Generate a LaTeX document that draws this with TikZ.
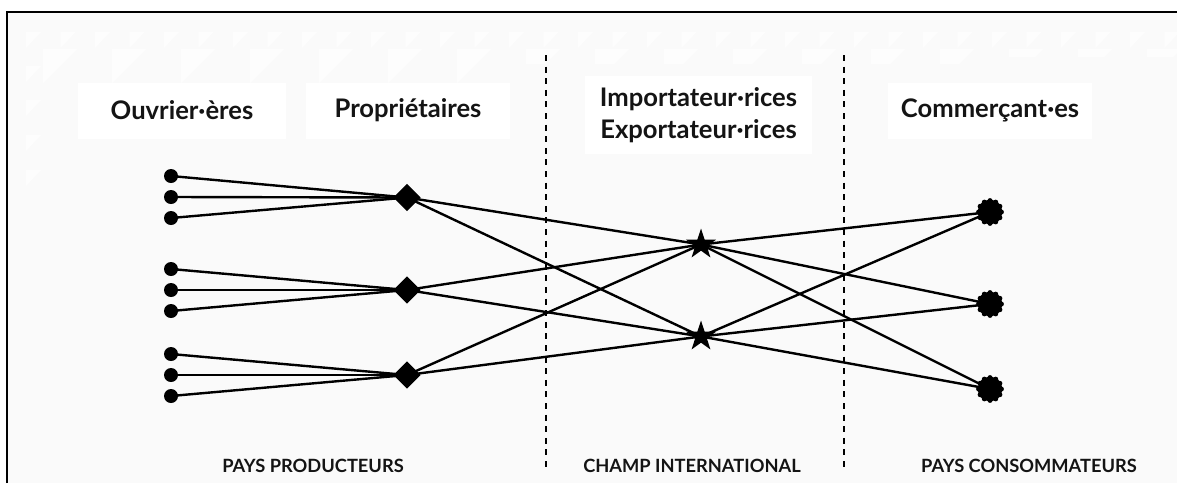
\documentclass[tikz,border=0pt]{standalone}
\usepackage{fontspec}
\setmainfont{Lato}
\usetikzlibrary{shapes.geometric}
\definecolor{paper}{HTML}{FAFAFA}
\definecolor{patchcol}{HTML}{FDFDFD}
\tikzset{
  x=0.75pt,y=-0.75pt,
  conn/.style={line width=1.8pt,black},
  zone/.style={line width=1.8pt,black,dash pattern=on 4.5pt off 4.2pt},
  worker/.style={circle,fill=black,inner sep=0pt,minimum size=10.5pt},
  owner/.style={diamond,fill=black,inner sep=0pt,minimum size=20.5pt,aspect=1},
  trader/.style={star,star points=5,star point ratio=2.6,fill=black,inner sep=0pt,minimum size=24pt},
  shop/.style={circle,fill=black,inner sep=0pt,minimum size=18.5pt},
  head/.style={font=\fontsize{19.2pt}{24pt}\selectfont\bfseries,align=center,text=black!92,fill=white,inner sep=0pt},
  foot/.style={font=\fontsize{13.7pt}{16pt}\selectfont\bfseries,text=black!92,inner sep=0pt},
  patch/.style={fill=patchcol}
}
\begin{document}
\begin{tikzpicture}
\useasboundingbox (0,0) rectangle (1177,483);
\fill[white] (0,0) rectangle (1177,483);
\fill[paper] (7,12) rectangle (1177,483);
% faint background pattern
\begin{scope}
\clip (0,0) rectangle (500,83) (500,0) rectangle (1000,64) (1000,0) rectangle (1177,57);
\foreach \k in {0,...,16}{
  \fill[patch] ({43+69*\k},49) -- ++(34,0) -- ++(-34,34) -- cycle;
}
\end{scope}
\foreach \k in {0,...,33}{
  \fill[patch] ({26+34.5*\k},32) -- ++(15,0) -- ++(-15,16) -- cycle;
}
\foreach \yy in {66,100,135,170}{
  \fill[patch] (26,\yy) -- ++(15,0) -- ++(-15,16) -- cycle;
}
\draw[line width=1.8pt] (7,483) -- (7,12) -- (1177,12);
% label boxes
\node[head,minimum width=156pt,minimum height=42pt] (ouv) at (182,110.5) {Ouvrier·ères};
\node[head,minimum width=153pt,minimum height=42pt] (pro) at (408,110.5) {Propriétaires};
\node[head,minimum width=170pt,minimum height=59pt] (imp) at (698.5,115) {Importateur·rices\\Exportateur·rices};
\node[head,minimum width=153pt,minimum height=42pt] (com) at (990,110.5) {Commerçant·es};
\node[foot] (fp) at (313,466) {PAYS PRODUCTEURS};
\node[foot] (fc) at (692,466) {CHAMP INTERNATIONAL};
\node[foot] (fm) at (1029,466) {PAYS CONSOMMATEURS};
% zone separators
\coordinate (z1a) at (546,55); \coordinate (z1b) at (546,468);
\coordinate (z2a) at (844,55); \coordinate (z2b) at (844,468);
\draw[zone] (z1a) -- (z1b);
\draw[zone] (z2a) -- (z2b);
% nodes
\node[worker] (w1) at (171,176) {}; \node[worker] (w2) at (171,197) {}; \node[worker] (w3) at (171,218) {};
\node[worker] (w4) at (171,269) {}; \node[worker] (w5) at (171,290) {}; \node[worker] (w6) at (171,311) {};
\node[worker] (w7) at (171,354) {}; \node[worker] (w8) at (171,375) {}; \node[worker] (w9) at (171,396) {};
\node[owner] (d1) at (407,197.5) {}; \node[owner] (d2) at (407,290) {}; \node[owner] (d3) at (407,375) {};
\node[trader] (s1) at (701,244.5) {}; \node[trader] (s2) at (701,336.5) {};
\node[shop] (f1) at (990,212) {}; \node[shop] (f2) at (990,304) {}; \node[shop] (f3) at (990,389) {};
\foreach \f in {f1,f2,f3}\foreach \a in {0,30,...,330}
  \fill ([shift={(\a:11.3)}]\f.center) circle[radius=2.6];
% connectors
\foreach \a/\b in {w1/d1,w2/d1,w3/d1,w4/d2,w5/d2,w6/d2,w7/d3,w8/d3,w9/d3,
  d1/s1,d1/s2,d2/s1,d2/s2,d3/s1,d3/s2,
  s1/f1,s1/f2,s1/f3,s2/f1,s2/f2,s2/f3}
  \draw[conn] (\a.center) -- (\b.center);
\end{tikzpicture}
\end{document}
